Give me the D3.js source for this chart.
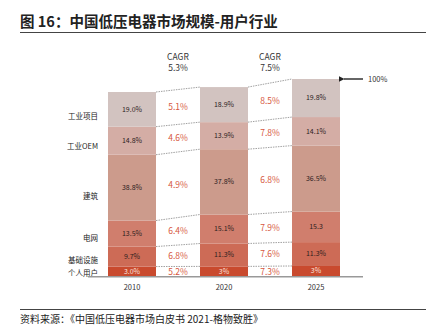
<!DOCTYPE html>
<html><head><meta charset="utf-8">
<script src="https://cdn.jsdelivr.net/npm/d3@7"></script>
<style>body{margin:0;background:#fff}svg{display:block}text{font-family:"Noto Sans CJK SC","Noto Sans",sans-serif}</style>
</head><body>
<svg id="c" width="434" height="330"></svg>
<script>
const years = ["2010","2020","2025"];
const segments = ["个人用户","基础设施","电网","建筑","工业OEM","工业项目"];
const shares = {
  "2010": [3.0, 9.7, 13.5, 38.8, 14.8, 19.0],
  "2020": [3, 11.3, 15.1, 37.8, 13.9, 18.9],
  "2025": [3, 11.3, 15.3, 36.5, 14.1, 19.8]
};
const shareLabels = {
  "2010": ["3.0%","9.7%","13.5%","38.8%","14.8%","19.0%"],
  "2020": ["3%","11.3%","15.1%","37.8%","13.9%","18.9%"],
  "2025": ["3%","11.3%","15.3","36.5%","14.1%","19.8%"]
};
const barSize = [93.4, 95.9, 100]; // bar size relative to 2025 (=100%)
const cagrTotal = ["5.3%","7.5%"];
const cagrSeg = [
  ["5.2%","6.8%","6.4%","4.9%","4.6%","5.1%"],
  ["7.3%","7.6%","7.9%","6.8%","7.8%","8.5%"]
];
const colors = ["#c94a2e","#cd6b56","#d07e6d","#cc9b8c","#d4ada5","#d2c3c0"];

const svg = d3.select("#c");
const bw = 48;
const xc = d3.scalePoint().domain(years).range([132, 316]);
const y = d3.scaleLinear().domain([0, 100]).range([276, 79]);
const pad = 3;

const stacks = years.map((yr, j) => {
  const w = shares[yr].map(v => v + pad);
  const tot = d3.sum(w);
  let c = 0;
  return w.map((wi, i) => {
    const y0 = y(c / tot * barSize[j]);
    c += wi;
    const y1 = y(c / tot * barSize[j]);
    return {i, y0, y1, v: shares[yr][i], label: shareLabels[yr][i]};
  });
});

// title
svg.append("text").attr("x", 20).attr("y", 27).attr("font-size", 14.5).attr("font-weight", "bold").attr("fill", "#222").text("图 16：中国低压电器市场规模-用户行业");
svg.append("line").attr("x1", 20).attr("x2", 426).attr("y1", 32.5).attr("y2", 32.5).attr("stroke", "#444").attr("stroke-width", 1);

// bars
years.forEach((yr, j) => {
  const cx = xc(yr);
  const g = svg.append("g");
  g.selectAll("rect").data(stacks[j]).join("rect")
    .attr("x", cx - bw/2).attr("width", bw)
    .attr("y", d => d.y1).attr("height", d => d.y0 - d.y1)
    .attr("fill", d => colors[d.i]);
  g.selectAll("text").data(stacks[j]).join("text")
    .attr("x", cx).attr("y", d => (d.y0 + d.y1)/2).attr("dy", "0.35em")
    .attr("text-anchor", "middle").attr("font-size", 7)
    .attr("fill", d => d.i === 0 ? "#fbe3dc" : "#2e211e")
    .text(d => d.label);
});

// dashed connectors + CAGR labels
for (let j = 0; j < years.length - 1; j++) {
  const xa = xc(years[j]) + bw/2, xb = xc(years[j+1]) - bw/2;
  const a = stacks[j], b = stacks[j+1];
  const lines = a.map((d, i) => ({y1: d.y1, y2: b[i].y1}));
  svg.append("g").selectAll("line").data(lines).join("line")
    .attr("x1", xa).attr("x2", xb).attr("y1", d => d.y1).attr("y2", d => d.y2)
    .attr("stroke", "#777").attr("stroke-width", 0.7).attr("stroke-dasharray", "1.5,1");
  const mx = (xa + xb) / 2;
  svg.append("g").selectAll("text").data(a).join("text")
    .attr("x", mx).attr("y", (d, i) => ((d.y0 + d.y1)/2 + (b[i].y0 + b[i].y1)/2)/2 + (i === 0 ? 1 : 0))
    .attr("dy", "0.35em").attr("text-anchor", "middle").attr("font-size", 8.5)
    .attr("fill", "#d6573e").text((d, i) => cagrSeg[j][i]);
  svg.append("text").attr("x", mx).attr("y", 59.5).attr("text-anchor", "middle").attr("font-size", 8.5).attr("fill", "#333").text("CAGR");
  svg.append("text").attr("x", mx).attr("y", 70.5).attr("text-anchor", "middle").attr("font-size", 8.5).attr("fill", "#333").text(cagrTotal[j]);
}

// category labels
svg.append("g").selectAll("text").data(stacks[0]).join("text")
  .attr("x", 98).attr("y", d => (d.y0 + d.y1)/2 + Math.min(9, (d.y0 - d.y1)*0.2))
  .attr("dy", "0.35em").attr("text-anchor", "end").attr("font-size", 7.5).attr("fill", "#222")
  .text(d => segments[d.i]);

// axis
svg.append("line").attr("x1", 88).attr("x2", 363).attr("y1", 276.8).attr("y2", 276.8).attr("stroke", "#999").attr("stroke-width", 1.4);
svg.append("g").selectAll("text").data(years).join("text")
  .attr("x", d => xc(d)).attr("y", 290).attr("text-anchor", "middle").attr("font-size", 7.5).attr("fill", "#333").text(d => d);

// 100% arrow
const topY = y(100);
const xr = xc("2025") + bw/2 + 2;
svg.append("defs").append("marker").attr("id", "ah").attr("viewBox", "0 0 10 10").attr("refX", 1).attr("refY", 5)
  .attr("markerWidth", 4).attr("markerHeight", 4).attr("orient", "auto-start-reverse")
  .append("path").attr("d", "M0,5L10,0L10,10Z").attr("fill", "#222");
svg.append("line").attr("x1", xr + 2).attr("x2", 363).attr("y1", topY).attr("y2", topY)
  .attr("stroke", "#333").attr("stroke-width", 1.5).attr("marker-start", "url(#ah)");
svg.append("text").attr("x", 368).attr("y", topY).attr("dy", "0.35em").attr("font-size", 7.5).attr("fill", "#333").text("100%");

// source
svg.append("line").attr("x1", 20).attr("x2", 426).attr("y1", 309.5).attr("y2", 309.5).attr("stroke", "#444").attr("stroke-width", 1);
svg.append("text").attr("x", 20).attr("y", 323).attr("font-size", 10).attr("fill", "#222").text("资料来源：《中国低压电器市场白皮书 2021-格物致胜》");
</script>
</body></html>
